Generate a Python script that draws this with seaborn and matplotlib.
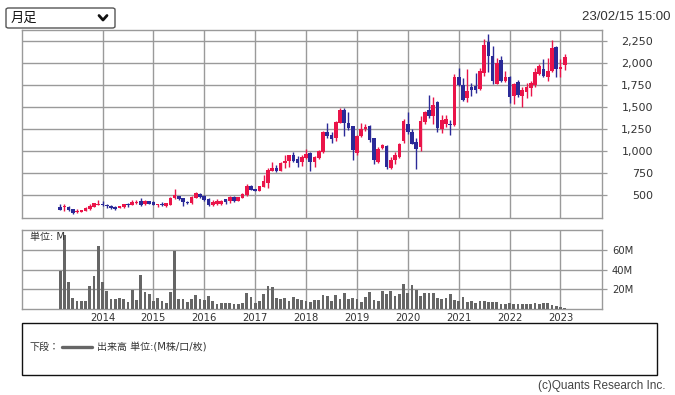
import numpy as np
import pandas as pd
import matplotlib
matplotlib.use("Agg")
import matplotlib.pyplot as plt
import seaborn as sns
from matplotlib.patches import FancyBboxPatch, Rectangle
from matplotlib.lines import Line2D

# ---------------- data ----------------
months = pd.period_range("2013-03", "2023-02", freq="M").astype(str).tolist()

opens = [368, 364, 368, 341, 315, 315, 319, 345, 368, 394,
         406, 394, 383, 368, 360, 372, 402, 391, 413, 429,
         398, 436, 421, 391, 398, 375, 394, 474, 489, 466,
         421, 413, 474, 519, 489, 455, 391, 405, 401, 454,
         431, 477, 435, 473, 500, 606, 568, 549, 598, 640,
         772, 806, 780, 867, 886, 954, 909, 878, 924, 981,
         878, 924, 992, 1216, 1189, 1144, 1325, 1466, 1314, 1280,
         984, 1174, 1250, 1284, 1144, 878, 1038, 1057, 811, 898,
         936, 1114, 1307, 1216, 1102, 1049, 1330, 1466, 1398, 1561,
         1250, 1307, 1311, 1292, 1841, 1750, 1606, 1731, 1739, 1705,
         1890, 2235, 2080, 1761, 2034, 1795, 1841, 1625, 1784, 1625,
         1670, 1720, 1750, 1871, 1936, 1845, 1913, 2182, 1936, 1973]
highs = [406, 406, 375, 345, 345, 338, 362, 398, 417, 451,
         436, 406, 391, 379, 379, 406, 413, 444, 444, 463,
         444, 440, 429, 400, 421, 415, 482, 576, 493, 474,
         429, 489, 542, 527, 497, 463, 451, 454, 443, 462,
         492, 488, 481, 526, 632, 621, 575, 610, 727, 810,
         878, 844, 882, 954, 962, 988, 943, 954, 1026, 985,
         943, 1011, 1227, 1314, 1212, 1341, 1492, 1492, 1447, 1288,
         1189, 1325, 1303, 1295, 1151, 1049, 1087, 1068, 936, 992,
         1095, 1360, 1447, 1254, 1151, 1398, 1458, 1636, 1617, 1568,
         1409, 1409, 1352, 1875, 1943, 1826, 1932, 1769, 1890, 1939,
         2273, 2330, 2197, 2061, 2080, 1913, 1852, 1769, 1807, 1731,
         1776, 1799, 1947, 1992, 2045, 2053, 2261, 2193, 2042, 2102]
lows = [330, 322, 319, 285, 300, 311, 317, 330, 366, 387,
        383, 353, 345, 338, 357, 360, 368, 389, 406, 375,
        391, 398, 387, 368, 375, 372, 387, 459, 444, 379,
        398, 406, 463, 474, 436, 375, 383, 394, 390, 397,
        416, 424, 431, 469, 488, 556, 545, 545, 591, 583,
        770, 761, 772, 814, 825, 878, 818, 833, 916, 772,
        822, 916, 984, 1144, 1098, 1113, 1314, 1174, 1238, 905,
        954, 1163, 1227, 1106, 859, 871, 1022, 803, 792, 860,
        928, 1095, 1193, 1076, 795, 1004, 1307, 1379, 1307, 1220,
        1201, 1269, 1186, 1284, 1742, 1572, 1561, 1629, 1655, 1693,
        1856, 1902, 1765, 1758, 1788, 1788, 1549, 1530, 1617, 1496,
        1598, 1625, 1731, 1860, 1845, 1799, 1894, 1845, 1845, 1920]
closes = [338, 379, 330, 296, 322, 334, 360, 379, 413, 406,
          394, 375, 357, 345, 375, 402, 391, 421, 425, 391,
          432, 406, 391, 398, 387, 410, 474, 497, 459, 425,
          410, 482, 527, 482, 451, 387, 425, 435, 431, 424,
          477, 435, 477, 515, 602, 560, 549, 606, 659, 784,
          810, 772, 863, 890, 954, 886, 867, 935, 969, 882,
          935, 1000, 1216, 1170, 1140, 1333, 1466, 1322, 1265, 1011,
          1174, 1257, 1272, 1125, 905, 1022, 1068, 822, 898, 954,
          1080, 1345, 1216, 1080, 1023, 1341, 1447, 1398, 1523, 1261,
          1352, 1364, 1299, 1845, 1746, 1580, 1682, 1693, 1693, 1909,
          2205, 2080, 1795, 2004, 1795, 1845, 1617, 1761, 1636, 1693,
          1723, 1777, 1898, 1966, 1852, 1913, 2174, 1936, 1955, 2068]
volume_m = [39, 76, 27, 11, 8, 7.5, 8, 23, 33.5, 64,
            27, 18.5, 10, 10, 11, 10, 7, 19.5, 9, 34.5,
            17.5, 15, 8, 11, 8, 6, 17, 59.5, 10, 10,
            7, 10, 14, 10, 9, 13, 7.5, 5, 6, 6,
            5.5, 5, 5, 6, 16, 12, 6, 8, 15, 23,
            22, 11, 10, 11, 8, 12, 10, 9, 8, 7,
            9, 9, 14, 13, 8, 14, 10, 16, 10, 11,
            10, 7, 12, 17, 9, 8, 18, 15.5, 18, 13,
            15, 25, 16, 24, 19, 13, 16, 16, 16, 11,
            10, 11, 15, 9, 8, 12, 7, 8, 6, 8,
            8, 7, 6.5, 7, 5, 5, 6, 5, 5, 5,
            5, 5, 6, 4.5, 6, 6, 3.5, 3, 1.5, 0.8]

price_ticks = [500, 750, 1000, 1250, 1500, 1750, 2000, 2250]
volume_ticks = [20, 40, 60]
year_labels = ["2014", "2015", "2016", "2017", "2018",
               "2019", "2020", "2021", "2022", "2023"]

# ---------------- style ----------------
sns.set_theme(style="white")
plt.rcParams["font.family"] = ["DejaVu Sans", "Noto Sans CJK JP"]

RED = "#ea1449"
BLUE = "#2b2a98"
GRID = "#9a9a9a"
TXT = "#333333"

W, H = 675, 395
fig = plt.figure(figsize=(W / 100, H / 100), dpi=100)


def frac(x0, y0, x1, y1):
    return [x0 / W, 1 - y1 / H, (x1 - x0) / W, (y1 - y0) / H]


ax_p = fig.add_axes(frac(22, 30, 602, 217.7))
ax_v = fig.add_axes(frac(22, 229.5, 602, 308.7))

df = pd.DataFrame({"month": months, "open": opens, "high": highs,
                   "low": lows, "close": closes, "volume": volume_m})
df["idx"] = np.arange(len(df))
df["up"] = df["close"] >= df["open"]
colors = np.where(df["up"], RED, BLUE)

year_pos = [months.index(f"{y}-01") for y in year_labels]
xlim = (-9.0, 127.8)

# ---------------- price candles ----------------
ax_p.vlines(df["idx"], df["low"], df["high"], colors=colors, lw=1.0, zorder=3)
body_h = np.maximum((df["close"] - df["open"]).abs(), 10)
body_b = np.minimum(df["open"], df["close"])
ax_p.bar(df["idx"], body_h, bottom=body_b, width=0.86, color=colors,
         linewidth=0, zorder=4)

ax_p.set_xlim(*xlim)
ax_p.set_ylim(245, 2375)
ax_p.set_xticks(year_pos)
ax_p.set_xticklabels([])
ax_p.yaxis.tick_right()
ax_p.set_yticks(price_ticks)
ax_p.set_yticklabels([f"{v:,}" for v in price_ticks])
ax_p.tick_params(axis="x", length=0)
ax_p.tick_params(axis="y", direction="out", length=3.6, width=0.9,
                 color=GRID, labelsize=8, labelcolor=TXT, pad=33)
for lbl in ax_p.get_yticklabels():
    lbl.set_horizontalalignment("right")
ax_p.grid(True, color=GRID, lw=1.0)
ax_p.set_axisbelow(True)

# ---------------- volume ----------------
sns.barplot(data=df, x="idx", y="volume", native_scale=True, color="#666666",
            saturation=1, width=0.65, errorbar=None, ax=ax_v, linewidth=0,
            zorder=3)
ax_v.set_xlim(*xlim)
ax_v.set_ylim(0, 81.3)
ax_v.set_xlabel("")
ax_v.set_ylabel("")
ax_v.set_xticks(year_pos)
ax_v.set_xticklabels(year_labels)
ax_v.yaxis.tick_right()
ax_v.set_yticks(volume_ticks)
ax_v.set_yticklabels([f"{v}M" for v in volume_ticks])
ax_v.tick_params(axis="x", length=0, labelsize=7.2, labelcolor=TXT, pad=3)
ax_v.tick_params(axis="y", direction="out", length=3.6, width=0.9,
                 color=GRID, labelsize=7.2, labelcolor=TXT, pad=3.5)
ax_v.grid(True, color=GRID, lw=1.0)
ax_v.set_axisbelow(True)
ax_v.text(0.014, 0.905, "単位: M", transform=ax_v.transAxes, fontsize=7.2,
          color=TXT, va="center", ha="left", zorder=5)

for ax in (ax_p, ax_v):
    for s in ax.spines.values():
        s.set_color(GRID)
        s.set_linewidth(1.0)

# ---------------- header ----------------
sel = FancyBboxPatch((6 / W, 1 - 28 / H), 109 / W, 20 / H,
                     boxstyle="round,pad=0,rounding_size=0.004",
                     transform=fig.transFigure, fc="white", ec="#555555",
                     lw=1.0)
fig.patches.append(sel)
fig.text(11 / W, 1 - 18 / H, "月足", fontsize=9.5, va="center", ha="left",
         color="#111111", family=["Noto Sans CJK JP", "DejaVu Sans"])
fig.lines.append(Line2D([99 / W, 103 / W, 107 / W],
                        [1 - 15.5 / H, 1 - 20 / H, 1 - 15.5 / H],
                        transform=fig.transFigure, color="#111111", lw=2.0))
fig.text(670 / W, 1 - 17 / H, "23/02/15 15:00", fontsize=9.5, va="center",
         ha="right", color=TXT, family=["Liberation Sans", "DejaVu Sans"])

# ---------------- legend box ----------------
fig.patches.append(Rectangle((22 / W, 1 - 375 / H), 635 / W, 52 / H,
                             transform=fig.transFigure, fc="white",
                             ec="#111111", lw=1.0))
fig.text(30 / W, 1 - 347 / H, "下段：", fontsize=7.2, va="center", ha="left",
         color=TXT)
fig.lines.append(Line2D([62 / W, 92 / W], [1 - 347 / H, 1 - 347 / H],
                        transform=fig.transFigure, color="#666666", lw=2.4))
fig.text(97 / W, 1 - 347 / H, "出来高 単位:(M株/口/枚)", fontsize=7.2,
         va="center", ha="left", color=TXT)
fig.text(665 / W, 1 - 386 / H, "(c)Quants Research Inc.", fontsize=8.5,
         va="center", ha="right", color="#444444",
         family=["Liberation Sans", "DejaVu Sans"])

fig.savefig("out.png", dpi=100)
